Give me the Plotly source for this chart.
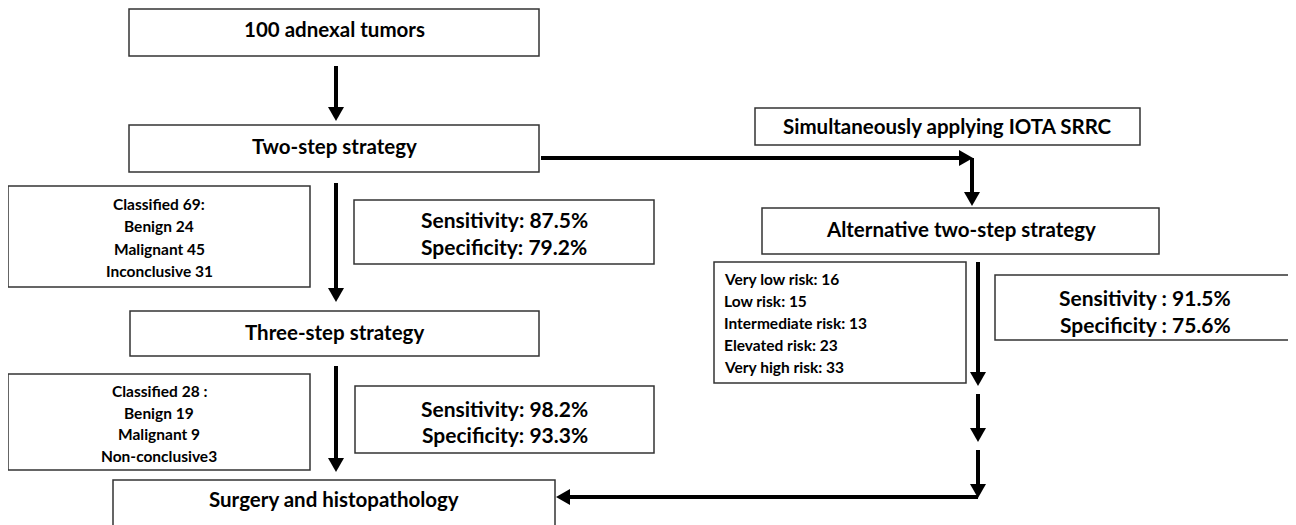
import plotly.graph_objects as go

W, H = 1296, 525
PAGE_MARGIN = 8  # browser default body margin

# ---- text content ----
main_titles = ["100 adnexal tumors", "Two-step strategy", "Three-step strategy",
               "Surgery and histopathology", "Simultaneously applying IOTA SRRC",
               "Alternative two-step strategy"]
classified_1 = ["Classified 69:", "Benign 24", "Malignant 45", "Inconclusive 31"]
classified_2 = ["Classified 28 :", "Benign 19", "Malignant 9", "Non-conclusive3"]
risk_lines = ["Very low risk: 16", "Low risk: 15", "Intermediate risk: 13",
              "Elevated risk: 23", "Very high risk: 33"]
perf_1 = ["Sensitivity: 87.5%", "Specificity: 79.2%"]
perf_2 = ["Sensitivity: 98.2%", "Specificity: 93.3%"]
perf_3 = ["Sensitivity : 91.5%", "Specificity : 75.6%"]

# ---- layout (pixel positions) ----
title_boxes = [(129, 9, 539, 56), (129, 125, 539, 172), (130, 311, 539, 356),
               (113, 480, 555, 530), (755, 108, 1140, 145), (762, 208, 1159, 254)]
title_y = [29, 146, 332, 499, 126, 229]
list_boxes = [  # (x0,y0,x1,y1, lines, first_y, step, align, size)
    (8, 186, 310, 287, classified_1, 204, 22.3, "center", 15.5),
    (8, 374, 310, 470, classified_2, 391, 21.5, "center", 15.5),
    (714, 262, 966, 383, risk_lines, 279, 22, "left", 15.5),
    (354, 200, 654, 264, perf_1, 219, 27, "center", 21),
    (355, 386, 654, 453, perf_2, 408, 26, "center", 21),
    (995, 275, 1295, 340, perf_3, 297, 27, "center", 21),
]
# arrows: (x0,y0,x1,y1) with head at (x1,y1)
arrows = [(336, 66, 336, 121), (336, 183, 336, 302), (336, 366, 336, 472),
          (541, 158, 973, 158), (972, 158, 972, 206),
          (978, 262, 978, 386), (978, 394, 978, 442), (978, 450, 978, 498)]
plain_lines = [(978, 497, 570, 497)]
left_head = (556, 497)

fig = go.Figure()
shapes = []
annos = []
FONT = "Lato"
border = dict(color="#333333", width=1.5)

for (x0, y0, x1, y1), t, ty in zip(title_boxes, main_titles, title_y):
    shapes.append(dict(type="rect", x0=x0, y0=y0, x1=x1, y1=y1, line=border,
                       fillcolor="white", layer="below"))
    annos.append(dict(x=(x0 + x1) / 2, y=ty, text="<b>%s</b>" % t, showarrow=False,
                      font=dict(family=FONT, size=20.5, color="black"),
                      xanchor="center", yanchor="middle"))

for x0, y0, x1, y1, lines, fy, step, align, size in list_boxes:
    shapes.append(dict(type="rect", x0=x0, y0=y0, x1=x1, y1=y1, line=border,
                       fillcolor="white", layer="below"))
    for i, ln in enumerate(lines):
        if align == "center":
            ax, anc = (x0 + x1) / 2, "center"
        else:
            ax, anc = x0 + 8, "left"
        annos.append(dict(x=ax, y=fy + i * step, text="<b>%s</b>" % ln, showarrow=False,
                          font=dict(family=FONT, size=size, color="black"),
                          xanchor=anc, yanchor="middle"))

HL, HW = 14, 8  # head length, half width
for x0, y0, x1, y1 in arrows:
    if x0 == x1:
        d = 1 if y1 > y0 else -1
        shapes.append(dict(type="line", x0=x0, y0=y0, x1=x1, y1=y1 - d * HL,
                           line=dict(color="black", width=4)))
        path = "M %f %f L %f %f L %f %f Z" % (x1 - HW, y1 - d * HL, x1 + HW, y1 - d * HL, x1, y1)
    else:
        d = 1 if x1 > x0 else -1
        shapes.append(dict(type="line", x0=x0, y0=y0, x1=x1 - d * HL, y1=y1,
                           line=dict(color="black", width=4)))
        path = "M %f %f L %f %f L %f %f Z" % (x1 - d * HL, y1 - HW, x1 - d * HL, y1 + HW, x1, y1)
    shapes.append(dict(type="path", path=path, fillcolor="black", line=dict(width=0)))

for x0, y0, x1, y1 in plain_lines:
    shapes.append(dict(type="line", x0=x0, y0=y0, x1=x1, y1=y1,
                       line=dict(color="black", width=4)))
hx, hy = left_head
shapes.append(dict(type="path",
                   path="M %f %f L %f %f L %f %f Z" % (hx + HL, hy - HW, hx + HL, hy + HW, hx, hy),
                   fillcolor="black", line=dict(width=0)))

fig.update_layout(
    width=W - PAGE_MARGIN, height=H - PAGE_MARGIN, margin=dict(l=0, r=0, t=0, b=0),
    paper_bgcolor="white", plot_bgcolor="white",
    xaxis=dict(range=[PAGE_MARGIN, W], visible=False, fixedrange=True),
    yaxis=dict(range=[H, PAGE_MARGIN], visible=False, fixedrange=True),
    shapes=shapes, annotations=annos, showlegend=False,
)
fig.write_html("out.html", config=dict(displayModeBar=False))
